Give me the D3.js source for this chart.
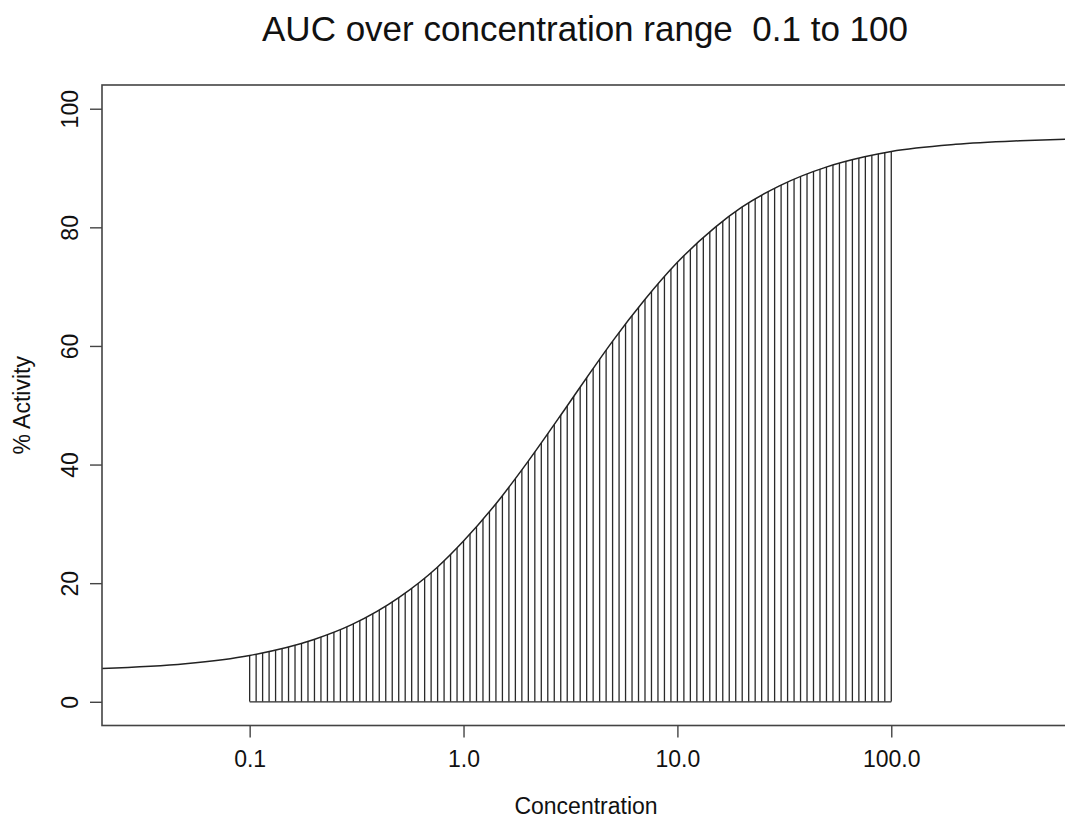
<!DOCTYPE html>
<meta charset="utf-8">
<style>
  body { margin: 0; background: #fff; }
  text { font-family: "Liberation Sans", Arial, sans-serif; fill: #111; white-space: pre; }
  .frame { fill: none; stroke: #444; stroke-width: 1.6; }
  .tick line { stroke: #444; stroke-width: 1.4; }
</style>
<svg width="1065" height="820"></svg>

<script src="https://cdn.jsdelivr.net/npm/d3@7"></script>
<script>

/*
 * Fitted curve: concentration and % activity.
 */
var concentration = [0.02, 0.05, 0.1, 0.2, 0.3, 0.5, 0.75, 1, 1.5, 2, 3, 4, 5, 7, 10, 15, 20, 30, 50, 75, 100, 200, 400, 700];
var activity      = [5.6, 6.4, 7.8, 10.5, 13.0, 17.6, 22.6, 27.1, 34.5, 40.5, 49.5, 56.0, 60.9, 67.7, 74.1, 80.0, 83.4, 87.0, 90.2, 91.9, 92.8, 94.0, 94.6, 94.9];

/*
 * Shaded AUC range and its hatch lines.
 */
var aucRange = [0.1, 100];
var hatchCount = 100;

var xTicks = [0.1, 1, 10, 100];
var xTickLabels = ["0.1", "1.0", "10.0", "100.0"];
var yTicks = [0, 20, 40, 60, 80, 100];

var svg = d3.select("svg"),
    box = {left: 102, top: 85, right: 1085, bottom: 725.5};

var x = d3.scaleLog()
    .domain([0.0204, 805])
    .range([box.left, box.right]);

var y = d3.scaleLinear()
    .domain([-4, 104])
    .range([box.bottom, box.top]);

var points = concentration.map(function(c, i) { return [c, activity[i]]; });

var defs = svg.append("defs");

defs.append("clipPath")
    .attr("id", "plot-clip")
  .append("rect")
    .attr("x", box.left)
    .attr("y", box.top)
    .attr("width", box.right - box.left)
    .attr("height", box.bottom - box.top);

/*
 * Area under the curve, used to cut the hatch lines at the curve.
 */
defs.append("clipPath")
    .attr("id", "auc-clip")
  .append("path")
    .attr("d", d3.area()
        .curve(d3.curveMonotoneX)
        .x(function(d) { return x(d[0]); })
        .y0(y(0))
        .y1(function(d) { return y(d[1]); })(points));

/*
 * Hatch lines, evenly spaced on the log axis between the range ends.
 */
var lo = Math.log10(aucRange[0]), hi = Math.log10(aucRange[1]);
var hatch = d3.range(hatchCount).map(function(i) {
  return Math.pow(10, lo + (hi - lo) * i / (hatchCount - 1));
});

svg.append("g")
    .attr("clip-path", "url(#auc-clip)")
  .selectAll("line")
  .data(hatch)
  .enter().append("line")
    .attr("x1", function(d) { return x(d); })
    .attr("x2", function(d) { return x(d); })
    .attr("y1", y(0))
    .attr("y2", y(100))
    .attr("stroke", "#2a2a2a")
    .attr("stroke-width", 1.3);

svg.append("line")
    .attr("x1", x(aucRange[0]))
    .attr("x2", x(aucRange[1]))
    .attr("y1", y(0))
    .attr("y2", y(0))
    .attr("stroke", "#2a2a2a")
    .attr("stroke-width", 1.3);

/*
 * The curve itself.
 */
svg.append("path")
    .attr("clip-path", "url(#plot-clip)")
    .attr("fill", "none")
    .attr("stroke", "#222")
    .attr("stroke-width", 1.5)
    .attr("d", d3.line()
        .curve(d3.curveMonotoneX)
        .x(function(d) { return x(d[0]); })
        .y(function(d) { return y(d[1]); })(points));

svg.append("rect")
    .attr("class", "frame")
    .attr("x", box.left)
    .attr("y", box.top)
    .attr("width", box.right - box.left)
    .attr("height", box.bottom - box.top);

/*
 * Axes.
 */
var xAxis = svg.append("g")
    .attr("transform", "translate(0," + box.bottom + ")")
    .call(d3.axisBottom(x)
        .tickValues(xTicks)
        .tickSize(12)
        .tickPadding(13)
        .tickFormat(function(d, i) { return xTickLabels[i]; }));
xAxis.select(".domain").remove();
xAxis.selectAll("text")
    .attr("font-size", 23)
    .attr("font-family", null);

var yAxis = svg.append("g")
    .attr("transform", "translate(" + box.left + ",0)")
    .call(d3.axisLeft(y)
        .tickValues(yTicks)
        .tickSize(12)
        .tickFormat(d3.format("d")));
yAxis.select(".domain").remove();
yAxis.selectAll("text")
    .attr("font-size", 23)
    .attr("font-family", null)
    .attr("text-anchor", "middle")
    .attr("x", null)
    .attr("dy", "0.35em")
    .attr("transform", "translate(-32,0) rotate(-90)");

/*
 * Title and axis labels.
 */
svg.append("text")
    .attr("x", 585)
    .attr("y", 41)
    .attr("text-anchor", "middle")
    .attr("font-size", 35)
    .text("AUC over concentration range  0.1 to 100");

svg.append("text")
    .attr("x", 586)
    .attr("y", 814)
    .attr("text-anchor", "middle")
    .attr("font-size", 23)
    .text("Concentration");

svg.append("text")
    .attr("text-anchor", "middle")
    .attr("font-size", 23)
    .attr("transform", "translate(30," + y(50) + ") rotate(-90)")
    .text("% Activity");

</script>
